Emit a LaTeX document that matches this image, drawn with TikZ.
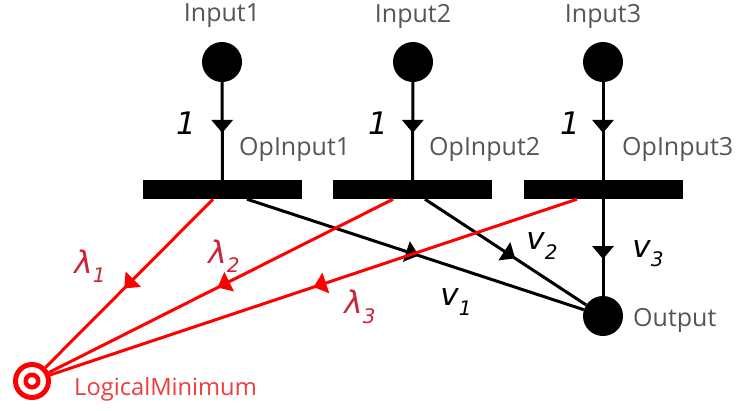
\documentclass[tikz,border=0pt]{standalone}
\usepackage{fontspec}
\setmainfont{Open Sans}
\newfontfamily\mfont{DejaVu Sans}
\usetikzlibrary{arrows.meta,decorations.markings}
\definecolor{labelgray}{RGB}{85,85,85}
\definecolor{lamred}{RGB}{205,35,55}
\definecolor{lmred}{RGB}{240,60,60}
\newcommand\mlab[2]{{\mfont\itshape #1\raisebox{-0.3em}{\fontsize{20}{20}\selectfont #2}}}
\tikzset{
  place/.style={circle,fill=black,inner sep=0pt,minimum size=40pt},
  bar/.style={rectangle,fill=black,inner sep=0pt,minimum width=159pt,minimum height=19pt},
  arc/.style={line width=3pt,color=black},
  redarc/.style={line width=3pt,color=red},
  midarrow/.style={postaction={decorate},decoration={markings,mark=at position #1 with {\arrow{Triangle[width=21pt,length=13pt]}}}},
  lbl/.style={font=\fontsize{25}{25}\selectfont,text=labelgray,inner sep=0pt},
  mlbl/.style={font=\fontsize{31}{31}\selectfont,inner sep=0pt},
}
\begin{document}
\begin{tikzpicture}[x=1pt,y=-1pt]
\useasboundingbox (0,0) rectangle (739,410);
% places and transitions
\node[place] (in1) at (222,62) {};
\node[place] (in2) at (413,62) {};
\node[place] (in3) at (603,62) {};
\node[bar] (b1) at (222.5,189.5) {};
\node[bar] (b2) at (412.5,189.5) {};
\node[bar] (b3) at (603,189.5) {};
\node[place] (out) at (603,316) {};
\node[circle,draw=red,line width=5pt,minimum size=33pt,inner sep=0pt] (lm) at (32,381) {};
\node[circle,draw=red,line width=4.5pt,minimum size=12.5pt,inner sep=0pt] (lmi) at (32,381) {};
% attachment points
\coordinate (b1k) at ([xshift=24.5pt]b1.south);
\coordinate (b1r) at ([xshift=-9.5pt]b1.south);
\coordinate (b2k) at ([xshift=12.5pt]b2.south);
\coordinate (b2r) at ([xshift=-19.5pt]b2.south);
\coordinate (b3r) at ([xshift=-26pt]b3.south);
% input arcs
\draw[arc,midarrow=0.52] (in1) -- (b1);
\draw[arc,midarrow=0.52] (in2) -- (b2);
\draw[arc,midarrow=0.52] (in3) -- (b3);
% output arcs
\draw[arc,midarrow=0.51] (b1k) -- (out);
\draw[arc,midarrow=0.56] (b2k) -- (out);
\draw[arc,midarrow=0.62] (b3) -- (out);
% red arcs
\draw[redarc,midarrow=0.53] (b1r) -- (lm);
\draw[redarc,midarrow=0.51] (b2r) -- (lm);
\draw[redarc,midarrow=0.5] (b3r) -- (lm);
% labels
\node[lbl] (l1) at (222,16) {Input1};
\node[lbl] (l2) at (413,16) {Input2};
\node[lbl] (l3) at (603,16) {Input3};
\node[lbl,anchor=west] (o1) at (239,149) {OpInput1};
\node[lbl,anchor=west] (o2) at (429,149) {OpInput2};
\node[lbl,anchor=west] (o3) at (622,149) {OpInput3};
\node[lbl,anchor=west] (ou) at (633,320) {Output};
\node[lbl,anchor=west,text=lmred,font=\fontsize{23.7}{24}\selectfont] (lml) at (74,389) {LogicalMinimum};
\node[mlbl] (w1) at (186,123) {\mfont\itshape 1};
\node[mlbl] (w2) at (378,123) {\mfont\itshape 1};
\node[mlbl] (w3) at (570,123) {\mfont\itshape 1};
\node[mlbl] (v1) at (456,302) {\mlab{v}{1}};
\node[mlbl] (v2) at (542,246) {\mlab{v}{2}};
\node[mlbl] (v3) at (648,254) {\mlab{v}{3}};
\node[mlbl,text=lamred] (k1) at (90,266) {\mlab{λ}{1}};
\node[mlbl,text=lamred] (k2) at (224,256) {\mlab{λ}{2}};
\node[mlbl,text=lamred] (k3) at (360,307) {\mlab{λ}{3}};
\end{tikzpicture}
\end{document}
